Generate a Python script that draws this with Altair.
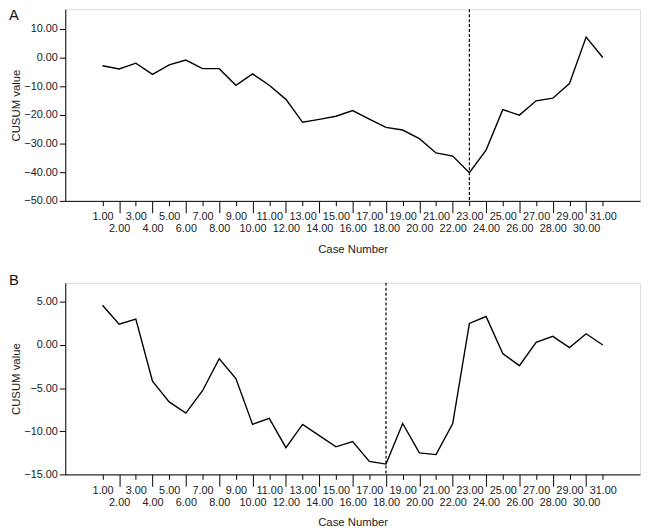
import altair as alt
import pandas as pd

cases = list(range(1, 32))
cusum_a = [-2.9, -4.0, -2.0, -5.9, -2.6, -0.9, -3.9, -3.9, -9.7, -5.7,
           -9.7, -14.6, -22.6, -21.6, -20.5, -18.5, -21.5, -24.4, -25.3, -28.3,
           -33.3, -34.4, -40.2, -32.3, -18.2, -20.1, -15.1, -14.2, -9.1, 7.1, 0.0]
cusum_b = [4.6, 2.4, 3.0, -4.2, -6.6, -7.9, -5.3, -1.6, -3.9, -9.2,
           -8.5, -11.9, -9.2, -10.5, -11.8, -11.2, -13.5, -13.8, -9.1, -12.5,
           -12.7, -9.1, 2.5, 3.3, -1.0, -2.4, 0.3, 1.0, -0.3, 1.3, 0.0]
change_a = 23
change_b = 18
yticks_a = [-50, -40, -30, -20, -10, 0, 10]
yticks_b = [-15, -10, -5, 0, 5]
ydomain_a = [-50, 16.8]
ydomain_b = [-15, 7.2]
xdomain = [-1.23, 33.23]

FONT = "Liberation Sans"
EVEN = "datum.value % 2 === 0"


def panel(values, label, change, ydomain, yticks, label_y):
    df = pd.DataFrame({"case": cases, "value": values})
    xaxis = alt.Axis(
        values=cases, tickCount=40, format=".2f", grid=False, labelAngle=0,
        labelFontSize=11, labelColor="#222", labelOverlap=False,
        labelFlush=False, labelBound=False, labelBaseline="top",
        tickSize={"condition": {"test": EVEN, "value": 12}, "value": 5},
        labelPadding={"condition": {"test": EVEN, "value": 10}, "value": 5},
        tickColor="#000", domainColor="#000", titleFontSize=11.5,
        titleFontWeight="normal", titleColor="#222", titlePadding=10,
    )
    yaxis = alt.Axis(
        values=yticks, tickCount=10, format=".2f", grid=False, labelFontSize=11,
        labelColor="#222", tickSize=6, labelPadding=2, tickColor="#000",
        domainColor="#000", titleFontSize=11.5, titleFontWeight="normal",
        titleColor="#222", titlePadding=2, labelOverlap=False,
    )
    x = alt.X("case:Q", scale=alt.Scale(domain=xdomain, nice=False, zero=False),
              axis=xaxis, title="Case Number")
    y = alt.Y("value:Q", scale=alt.Scale(domain=ydomain, nice=False, zero=False),
              axis=yaxis, title="CUSUM value")
    line = alt.Chart(df).mark_line(color="black", strokeWidth=1.4).encode(x=x, y=y)
    rule = alt.Chart(pd.DataFrame({"case": [change]})).mark_rule(
        color="black", strokeDash=[3, 2], strokeWidth=1.2
    ).encode(x=alt.X("case:Q"))
    text = alt.Chart(pd.DataFrame({"t": [label]})).mark_text(
        align="left", baseline="alphabetic", fontSize=15, font=FONT, color="#111"
    ).encode(text="t:N", x=alt.value(-57), y=alt.value(label_y))
    return alt.layer(line, rule, text).properties(width=582, height=194)


chart = alt.vconcat(
    panel(cusum_a, "A", change_a, ydomain_a, yticks_a, 11),
    panel(cusum_b, "B", change_b, ydomain_b, yticks_b, 2),
    spacing=17,
).properties(
    padding={"top": -4, "left": 0, "right": 0, "bottom": 0}, background="white"
).configure_view(
    fill="#f0f0f0", stroke="#555", strokeWidth=1
).configure(font=FONT)

chart.save("out.html", embed_options={"renderer": "svg", "actions": False})
